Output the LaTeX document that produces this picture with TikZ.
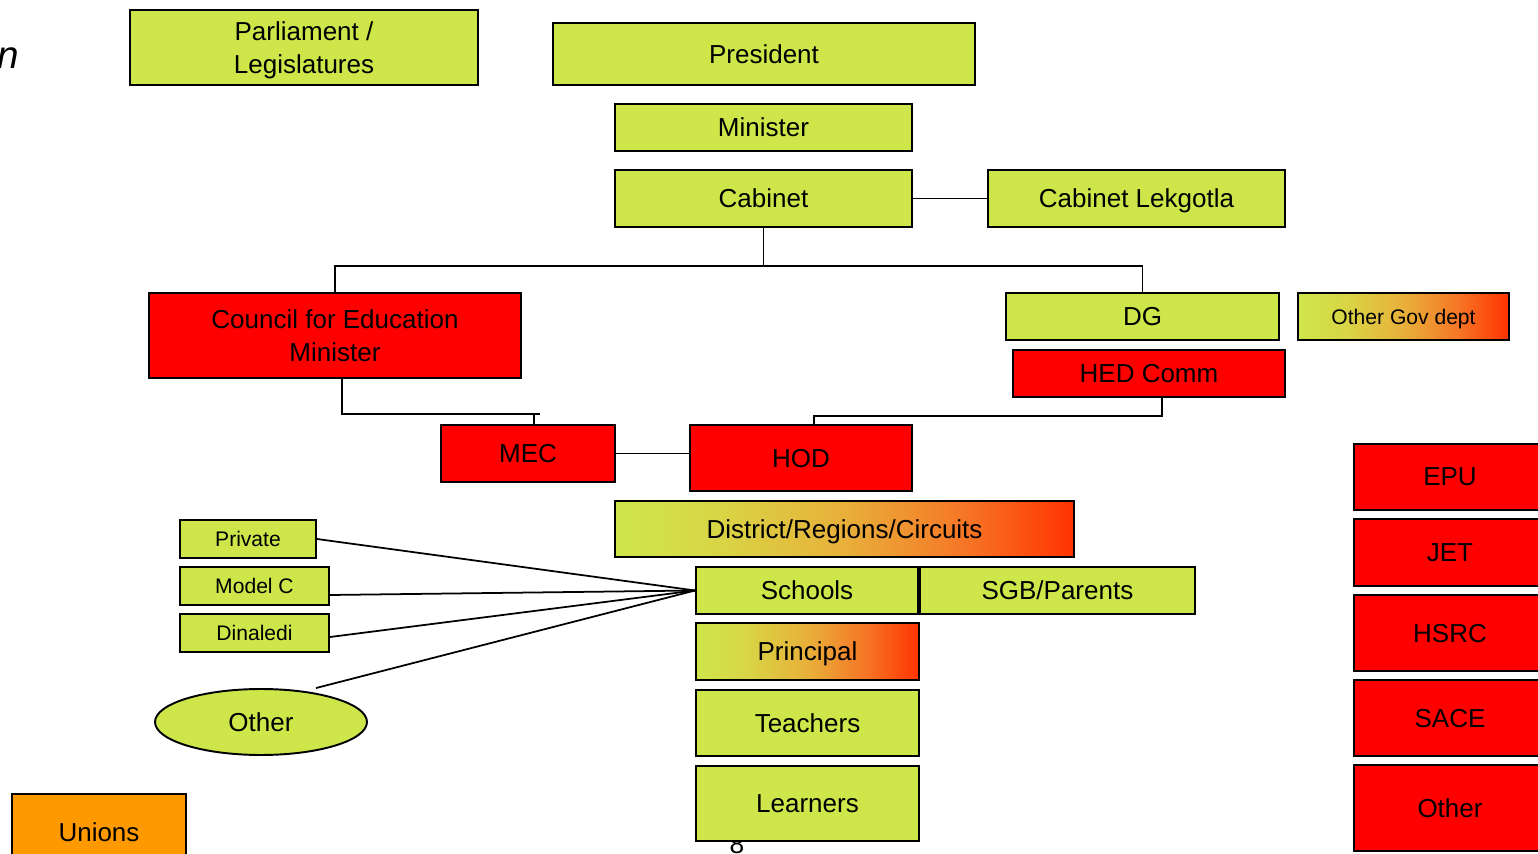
\documentclass[tikz,border=0pt]{standalone}
\usepackage{fontspec}
\setmainfont{Liberation Sans}
\usepackage{tikz}
\usetikzlibrary{shapes.geometric, positioning, calc}

\definecolor{lime}{RGB}{206,230,74}
\definecolor{fullred}{RGB}{255,0,0}
\definecolor{fadered}{RGB}{255,51,0}
\definecolor{fadeyellow}{RGB}{216,214,70}
\definecolor{fademid}{RGB}{232,176,58}
\definecolor{fadeorange}{RGB}{246,118,38}
\definecolor{unionorange}{RGB}{255,153,0}
\pgfdeclarehorizontalshading{limefade}{100bp}{color(0bp)=(lime); color(25bp)=(lime);
  color(36bp)=(fadeyellow); color(50bp)=(fademid); color(63bp)=(fadeorange);
  color(75bp)=(fadered); color(100bp)=(fadered)}

\begin{document}
\begin{tikzpicture}[
  x=0.02cm, y=-0.02cm,
  box/.style={draw, line width=1.1pt, fill=lime, align=center, inner sep=0pt, text depth=0pt,
    font=\fontsize{14.8}{18.5}\selectfont},
  redbox/.style={box, fill=fullred},
  fadebox/.style={box, shading=limefade},
  smallbox/.style={box, font=\fontsize{12}{14}\selectfont},
  link/.style={line width=1pt},
]
\useasboundingbox (0,0) rectangle (1538,854);
\clip (0,0) rectangle (1538,854);

% cut-off title and page number
\node[anchor=base east, inner sep=0pt, font=\fontsize{22}{26}\selectfont\itshape] (title) at (19,69) {n};
\node[anchor=base, inner sep=0pt, font=\fontsize{15}{17}\selectfont] (pageno) at (737,853) {8};

% top level
\node[box, minimum width=6.96cm, minimum height=1.5cm] (parl) at (304,47.5) {Parliament /\\Legislatures};
\node[box, minimum width=8.44cm, minimum height=1.24cm] (pres) at (764,54) {President};
\node[box, minimum width=5.94cm, minimum height=0.94cm] (minister) at (763.5,127.5) {Minister};
\node[box, minimum width=5.94cm, minimum height=1.14cm] (cabinet) at (763.5,198.5) {Cabinet};
\node[box, minimum width=5.94cm, minimum height=1.14cm] (lekgotla) at (1136.5,198.5) {Cabinet Lekgotla};

% department level
\node[redbox, minimum width=7.44cm, minimum height=1.7cm] (council) at (335,335.5) {Council for Education\\ Minister};
\node[box, minimum width=5.46cm, minimum height=0.94cm] (dg) at (1142.5,316.5) {DG};
\node[fadebox, smallbox, minimum width=4.22cm, minimum height=0.94cm] (otherdept) at (1403.5,316.5) {Other Gov dept};
\node[redbox, minimum width=5.44cm, minimum height=0.94cm] (hed) at (1149,373.5) {HED Comm};
\node[redbox, minimum width=3.48cm, minimum height=1.14cm] (mec) at (528,453.5) {MEC};
\node[redbox, minimum width=4.44cm, minimum height=1.32cm] (hod) at (801,458) {HOD};

% school level
\node[fadebox, minimum width=9.18cm, minimum height=1.12cm] (district) at (844.5,529) {District/Regions/Circuits};
\node[box, minimum width=4.44cm, minimum height=0.94cm] (schools) at (807,590.5) {Schools};
\node[box, right=0pt of schools, minimum width=5.5cm, minimum height=0.94cm] (sgb) {SGB/Parents};
\node[fadebox, minimum width=4.46cm, minimum height=1.14cm] (principal) at (807.5,651.5) {Principal};
\node[box, minimum width=4.46cm, minimum height=1.32cm] (teachers) at (807.5,723) {Teachers};
\node[box, minimum width=4.46cm, minimum height=1.5cm] (learners) at (807.5,803.5) {Learners};

% school types
\node[smallbox, minimum width=2.72cm, minimum height=0.76cm] (private) at (248,539) {Private};
\node[smallbox, minimum width=2.98cm, minimum height=0.76cm] (modelc) at (254.5,586) {Model C};
\node[smallbox, minimum width=2.98cm, minimum height=0.76cm] (dinaledi) at (254.5,633) {Dinaledi};
\node[box, ellipse, minimum width=4.24cm, minimum height=1.32cm] (otherell) at (261,722) {Other};

% statutory bodies
\foreach \nm/\txt/\yy/\hh in {epu/EPU/477/1.32, jet/JET/552.5/1.34, hsrc/HSRC/633/1.52, sace/SACE/718/1.52, otherbody/Other/808/1.72}
  \node[redbox, minimum width=3.84cm, minimum height=\hh cm] (\nm) at (1450,\yy) {\txt};

\node[box, fill=unionorange, minimum width=3.48cm, minimum height=1.52cm] (unions) at (99,832) {Unions};

% connectors
\draw[link] (cabinet.east) -- (lekgotla.west);
\draw[link] (cabinet.south) -- ++(0,38) coordinate (cabjoin);
\draw[link] (council.north) |- (cabjoin) -| (dg.north);
\draw[link] ($(council.south)+(7,0)$) |- ($(mec.north)+(12,-10)$);
\draw[link] ($(mec.north)+(6,0)$) -- ++(0,-10);
\draw[link] (mec.east) -- (mec.east -| hod.west);
\draw[link] ($(hed.south)+(13,0)$) -- ++(0,18) -| ($(hod.north)+(13,0)$);
\draw[link] (private.east) -- (schools.west);
\draw[link] ($(modelc.east)+(0,9)$) -- (schools.west);
\draw[link] ($(dinaledi.east)+(0,4)$) -- (schools.west);
\draw[link] ($(otherell.north)+(55,0)$) -- (schools.west);
\end{tikzpicture}
\end{document}
